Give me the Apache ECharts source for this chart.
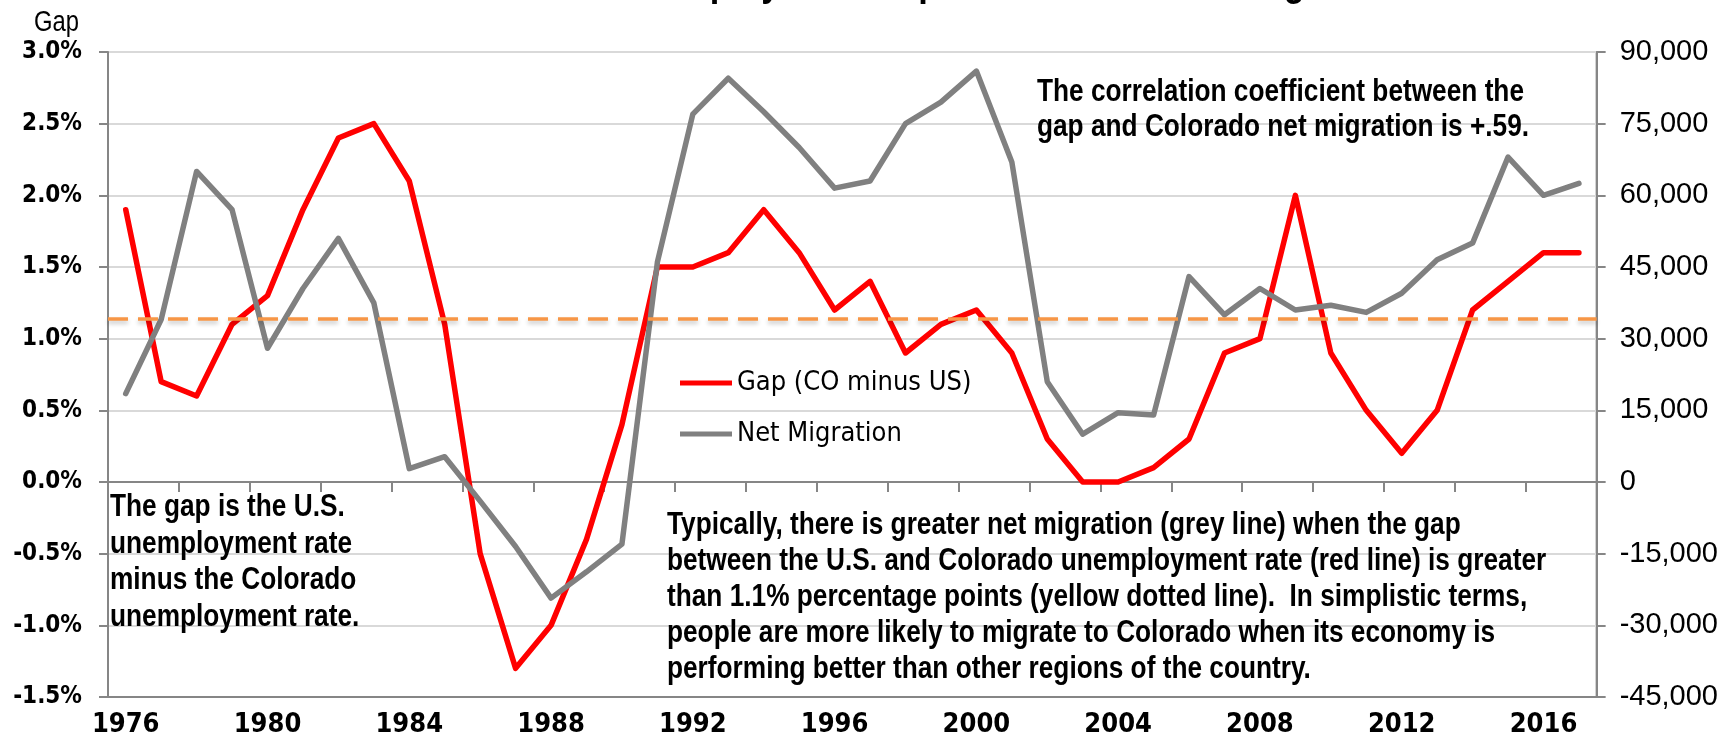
<!DOCTYPE html>
<html>
<head>
<meta charset="utf-8">
<title>Unemployment Gap and Colorado Net Migration</title>
<script src="https://cdn.jsdelivr.net/npm/echarts@6/dist/echarts.min.js"></script>
<style>
  * { margin: 0; padding: 0; }
  body { background: #fff; }
  #main { width: 1721px; height: 742px; }
</style>
</head>
<body>
<div id="main"></div>
<script>
// categories
var years = ['1976', '1977', '1978', '1979', '1980', '1981', '1982', '1983', '1984', '1985',
  '1986', '1987', '1988', '1989', '1990', '1991', '1992', '1993', '1994', '1995',
  '1996', '1997', '1998', '1999', '2000', '2001', '2002', '2003', '2004', '2005',
  '2006', '2007', '2008', '2009', '2010', '2011', '2012', '2013', '2014', '2015',
  '2016', '2017'];
// gap, % (CO minus US) - left axis
var gap = [1.9, 0.7, 0.6, 1.1, 1.3, 1.9, 2.4, 2.5, 2.1, 1.1,
  -0.5, -1.3, -1.0, -0.4, 0.4, 1.5, 1.5, 1.6, 1.9, 1.6,
  1.2, 1.4, 0.9, 1.1, 1.2, 0.9, 0.3, 0.0, 0.0, 0.1,
  0.3, 0.9, 1.0, 2.0, 0.9, 0.5, 0.2, 0.5, 1.2, 1.4,
  1.6, 1.6];
// net migration, persons - right axis
var netMigration = [18500, 34000, 65000, 57000, 28000, 40500, 51000, 37500, 2800, 5300,
  -4000, -13500, -24300, -18800, -13000, 46000, 77000, 84500, 77500, 70000,
  61500, 63000, 75000, 79500, 86000, 67000, 21000, 10000, 14500, 14000,
  43000, 35000, 40500, 36000, 37000, 35500, 39500, 46500, 50000, 68000,
  60000, 62500];
// the dashed reference level
var gapThreshold = 1.14;

// no Arial Narrow here: condensed DejaVu for axis text, squeezed Liberation for the notes
var CONDENSED = '"DejaVu Sans Condensed", "Arial Narrow", sans-serif';
var REGULAR = '"Liberation Sans", Arial, sans-serif';
var AXIS_GREY = '#868686';

var titleText = 'Unemployment Gap and Colorado Net Migration';
var noteCorrelation = 'The correlation coefficient between the\ngap and Colorado net migration is +.59.';
var noteGap = 'The gap is the U.S.\nunemployment rate\nminus the Colorado\nunemployment rate.';
var noteTypically = 'Typically, there is greater net migration (grey line) when the gap\n' +
  'between the U.S. and Colorado unemployment rate (red line) is greater\n' +
  'than 1.1% percentage points (yellow dotted line).  In simplistic terms,\n' +
  'people are more likely to migrate to Colorado when its economy is\n' +
  'performing better than other regions of the country.';

var myChart = echarts.init(document.getElementById('main'));

// text squeezed to look like Arial Narrow
function narrowText(text, x, y, size, lh, opts) {
  opts = opts || {};
  return {
    type: 'text',
    x: x,
    y: y,
    scaleX: 0.82,
    z: 50,
    style: {
      text: text,
      fill: '#000',
      font: (opts.weight || 'bold') + ' ' + size + 'px ' + REGULAR,
      lineHeight: lh,
      align: opts.align || 'left',
      verticalAlign: opts.vAlign || 'top'
    }
  };
}

var option = {
  animation: false,
  backgroundColor: '#fff',
  grid: {
    left: 108, right: 120, top: 52, bottom: 45,
    show: true, borderColor: AXIS_GREY, borderWidth: 2
  },
  legend: {
    orient: 'vertical',
    left: 675,
    top: 363,
    icon: 'rect',
    itemWidth: 52,
    itemHeight: 5,
    itemGap: 21,
    textStyle: { fontFamily: CONDENSED, fontSize: 27, color: '#000', lineHeight: 30 },
    data: ['Gap (CO minus US)', 'Net Migration']
  },
  xAxis: [
    {
      type: 'category',
      data: years,
      position: 'bottom',
      axisLine: { onZero: false, lineStyle: { color: AXIS_GREY, width: 2 } },
      axisTick: { show: false },
      axisLabel: {
        interval: 3,
        margin: 14,
        color: '#000',
        fontFamily: CONDENSED,
        fontWeight: 'bold',
        fontSize: 27
      }
    },
    {
      type: 'category',
      data: years,
      position: 'bottom',
      axisLine: { onZero: true, onZeroAxisIndex: 0, lineStyle: { color: AXIS_GREY, width: 2 } },
      axisTick: { show: true, interval: 1, length: 10, lineStyle: { color: AXIS_GREY, width: 2 } },
      axisLabel: { show: false }
    }
  ],
  yAxis: [
    {
      type: 'value',
      min: -1.5,
      max: 3,
      interval: 0.5,
      axisLine: { show: true, lineStyle: { color: AXIS_GREY, width: 2 } },
      axisTick: { show: true, length: 9, lineStyle: { color: AXIS_GREY, width: 2 } },
      splitLine: { lineStyle: { color: '#d9d9d9', width: 2 } },
      axisLabel: {
        margin: 26,
        color: '#000',
        fontFamily: CONDENSED,
        fontWeight: 'bold',
        fontSize: 24,
        formatter: function (v) { return v.toFixed(1) + '%'; }
      }
    },
    {
      type: 'value',
      min: -45000,
      max: 90000,
      interval: 15000,
      position: 'right',
      axisLine: { show: true, lineStyle: { color: AXIS_GREY, width: 2 } },
      axisTick: { show: true, length: 9, lineStyle: { color: AXIS_GREY, width: 2 } },
      splitLine: { show: false },
      axisLabel: {
        margin: 23,
        color: '#000',
        fontFamily: REGULAR,
        fontSize: 29,
        formatter: function (v) { return v === 0 ? '0' : v.toLocaleString('en-US'); }
      }
    }
  ],
  series: [
    {
      name: 'Gap (CO minus US)',
      type: 'line',
      xAxisIndex: 0,
      yAxisIndex: 0,
      data: gap,
      symbol: 'none',
      itemStyle: { color: '#ff0000' },
      lineStyle: { color: '#ff0000', width: 5.5, join: 'round', cap: 'round' },
      markLine: {
        silent: true,
        symbol: 'none',
        label: { show: false },
        lineStyle: {
          color: '#f79646', width: 3.5, type: [20, 10],
          shadowColor: 'rgba(0,0,0,0.22)', shadowBlur: 4, shadowOffsetY: 3
        },
        data: [{ yAxis: gapThreshold }]
      },
      z: 3
    },
    {
      name: 'Net Migration',
      type: 'line',
      xAxisIndex: 0,
      yAxisIndex: 1,
      data: netMigration,
      symbol: 'none',
      itemStyle: { color: '#808080' },
      lineStyle: { color: '#808080', width: 5.5, join: 'round', cap: 'round' },
      z: 4
    }
  ],
  graphic: [
    narrowText(titleText, 614, -17, 42, 42, { vAlign: 'middle' }),
    // left axis title
    narrowText('Gap', 79, 23, 29, 29, { weight: 'normal', align: 'right', vAlign: 'middle' }),
    narrowText(noteCorrelation, 1037, 75, 32, 35),
    narrowText(noteGap, 110, 489, 32, 36.6),
    narrowText(noteTypically, 667, 507, 32, 36)
  ]
};

myChart.setOption(option);
</script>
</body>
</html>
